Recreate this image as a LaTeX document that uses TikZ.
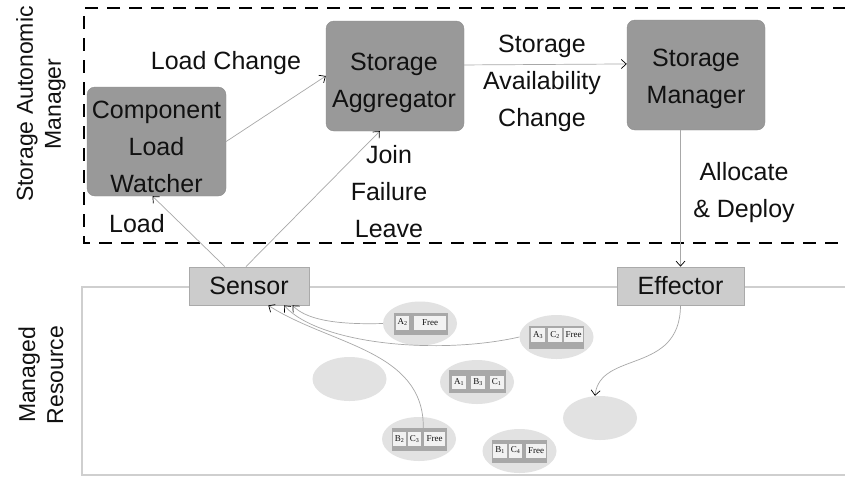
\documentclass[tikz,border=0pt]{standalone}
\usepackage{fontspec}
\setmainfont{Liberation Sans}
\newfontfamily\cellserif{Liberation Serif}
\usetikzlibrary{shapes.geometric,arrows.meta,calc}
\definecolor{boxdark}{HTML}{999999}
\definecolor{boxdarkline}{HTML}{8C8C8C}
\definecolor{boxlight}{HTML}{CCCCCC}
\definecolor{boxlightline}{HTML}{AAAAAA}
\definecolor{ellfill}{HTML}{E2E2E2}
\definecolor{barfill}{HTML}{A8A8A8}
\definecolor{cellfill}{HTML}{F2F2F2}
\definecolor{wire}{HTML}{A8A8A8}
\definecolor{mrline}{HTML}{CFCFCF}
\definecolor{txt}{HTML}{111111}
\tikzset{
  bigfont/.style={font=\fontsize{25}{37}\selectfont, text=txt},
  sidefont/.style={font=\fontsize{23}{28}\selectfont, text=txt},
  compbox/.style={draw=boxdarkline, fill=boxdark, rounded corners=8pt, inner sep=0pt},
  inbox/.style={align=center, inner sep=0pt, bigfont},
  portbox/.style={draw=boxlightline, fill=boxlight, inner sep=0pt, bigfont, line width=0.8pt},
  lbl/.style={align=center, inner sep=0pt, bigfont},
  ell/.style={ellipse, fill=ellfill, inner sep=0pt, minimum width=74pt, minimum height=44pt},
  bar/.style={fill=barfill, inner sep=0pt},
  cellbox/.style={fill=cellfill, inner sep=0pt, font=\cellserif\fontsize{9}{10}\selectfont, text=txt},
  wired/.style={draw=wire, line width=0.7pt, -{Straight Barb[length=5pt,width=9pt,color=black,line width=0.7pt]}},
}
\begin{document}
\begin{tikzpicture}[x=1pt,y=-1pt]
\useasboundingbox (0,0) rectangle (845,477);
\fill[white] (0,0) rectangle (845,477);
% frames
\draw[black, line width=2.6pt, dash pattern=on 13pt off 9pt] (846,8) -- (84,8) -- (84,243) -- (846,243);
\draw[mrline, line width=1.2pt] (846,287) -- (82,287) -- (82,475) -- (846,475);
% side labels
\node[rotate=90, align=center, sidefont, inner sep=0pt] (sam) at (41,104) {Storage Autonomic\\Manager};
\node[rotate=90, align=center, sidefont, inner sep=0pt] (mr) at (41,375) {Managed\\Resource};
% components
\node[compbox, minimum width=139pt, minimum height=109pt] (watch) at (156.5,141.5) {};
\node[inbox] (watcht) at (156.5,146.5) {Component\\Load\\Watcher};
\node[compbox, minimum width=138pt, minimum height=110pt] (agg) at (395,76) {};
\node[inbox] (aggt) at (394,83) {Storage\\Aggregator};
\node[compbox, minimum width=138pt, minimum height=110pt] (mgr) at (696,75) {};
\node[inbox] (mgrt) at (696,79) {Storage\\Manager};
\node[portbox, minimum width=120pt, minimum height=38pt] (sensor) at (249,286) {Sensor};
\node[portbox, minimum width=127pt, minimum height=38pt] (eff) at (680.5,286) {Effector};
% labels
\node[lbl] (lc) at (226,63) {Load Change};
\node[lbl] (sac) at (542,83) {Storage\\Availability\\Change};
\node[lbl] (jfl) at (389,192) {Join\\Failure\\Leave};
\node[lbl] (ld) at (137,224) {Load};
\node[lbl] (ad) at (744,193) {Allocate\\\& Deploy};
% ellipses
\node[ell] (e1) at (420,323.5) {};
\node[ell] (e2) at (556.5,337) {};
\node[ell] (e3) at (349.5,379) {};
\node[ell] (e4) at (477,382) {};
\node[ell] (e5) at (419,439) {};
\node[ell] (e6) at (519.5,451) {};
\node[ell] (e7) at (600,418) {};
% bars and cells
\node[bar, minimum width=54pt, minimum height=22pt] (b1) at (421,323.5) {};
\node[cellbox, minimum width=13pt, minimum height=14pt] (c11) at (402.5,322.5) {A\textsubscript{2}};
\node[cellbox, minimum width=32pt, minimum height=14pt] (c12) at (430,322.5) {Free};
\node[bar, minimum width=55pt, minimum height=23pt] (b2) at (556.5,337.5) {};
\node[cellbox, minimum width=14pt, minimum height=14pt] (c21) at (538,335) {A\textsubscript{3}};
\node[cellbox, minimum width=14pt, minimum height=14pt] (c22) at (555,335) {C\textsubscript{2}};
\node[cellbox, minimum width=19pt, minimum height=14pt] (c23) at (573.5,335) {Free};
\node[bar, minimum width=57pt, minimum height=23pt] (b4) at (477.5,381.5) {};
\node[cellbox, minimum width=14pt, minimum height=13pt] (c41) at (459,382.5) {A\textsubscript{1}};
\node[cellbox, minimum width=14pt, minimum height=13pt] (c42) at (478,382.5) {B\textsubscript{3}};
\node[cellbox, minimum width=14pt, minimum height=13pt] (c43) at (496.5,382.5) {C\textsubscript{1}};
\node[bar, minimum width=55pt, minimum height=23pt] (b5) at (419,439.5) {};
\node[cellbox, minimum width=13pt, minimum height=14pt] (c51) at (399.5,439) {B\textsubscript{2}};
\node[cellbox, minimum width=13pt, minimum height=14pt] (c52) at (414.5,439) {C\textsubscript{3}};
\node[cellbox, minimum width=21pt, minimum height=14pt] (c53) at (434.5,439) {Free};
\node[bar, minimum width=55pt, minimum height=23pt] (b6) at (519.5,451.5) {};
\node[cellbox, minimum width=14pt, minimum height=14pt] (c61) at (500,450.5) {B\textsubscript{1}};
\node[cellbox, minimum width=13pt, minimum height=14pt] (c62) at (515.5,450.5) {C\textsubscript{4}};
\node[cellbox, minimum width=20pt, minimum height=14pt] (c63) at (536,450.5) {Free};
% connectors
\draw[wired] (watch.east) -- (agg.west);
\draw[wired] ($(sensor.north west)!0.3!(sensor.north east)$) -- ($(watch.south)+(-4,0)$);
\draw[wired] ($(sensor.north west)!0.475!(sensor.north east)$) -- ($(agg.south west)!0.39!(agg.south east)$);
\draw[wired] ($(agg.north east)!0.4!(agg.south east)$) -- ($(mgr.north west)!0.4!(mgr.south west)$);
\draw[wired] (eff.north |- mgr.south) -- (eff.north);
\draw[wired] (eff.south) .. controls (680,375) and (600,350) .. ($(e7.north)+(-5,0)$);
\draw[wired] (e1.west) .. controls (330,325) and (305,318) .. ($(sensor.south west)!0.86!(sensor.south east)$);
\draw[wired] (e2.west) .. controls (440,355) and (320,345) .. ($(sensor.south west)!0.79!(sensor.south east)$);
\draw[wired] (b5.north -| c53.west) ++(-0.5,0) .. controls (424,350) and (330,345) .. ($(sensor.south west)!0.66!(sensor.south east)$);
\end{tikzpicture}
\end{document}
